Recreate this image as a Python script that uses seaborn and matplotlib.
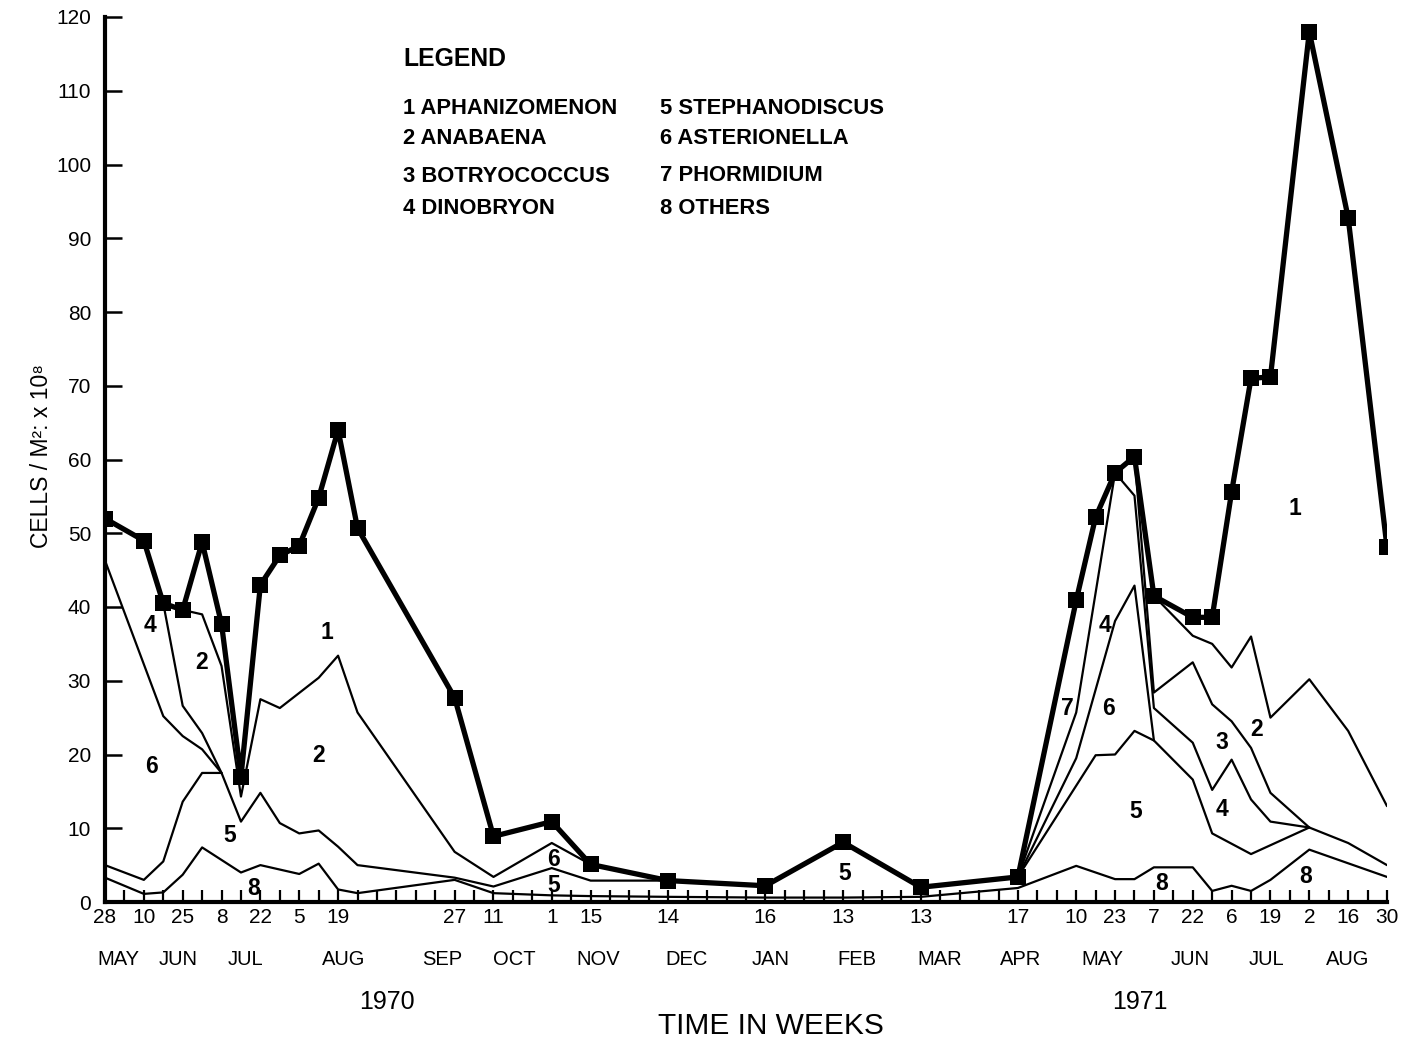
import matplotlib
matplotlib.use("Agg")
import matplotlib.pyplot as plt
import matplotlib.transforms as mtransforms
import seaborn as sns

# ---------------- data (x = week number on the drawn axis, 0 = 28 May 1970, 66 = 30 Aug 1971)
total_weeks = [0, 2, 3, 4, 5, 6, 7, 8, 9, 10, 11, 12, 13, 18, 20, 23, 25, 29, 34, 38, 42, 47,
               50, 51, 52, 53, 54, 56, 57, 58, 59, 60, 62, 64, 66]
total_cells = [52.0, 49.0, 40.5, 39.6, 48.8, 37.7, 17.0, 43.0, 47.0, 48.3, 54.8, 64.0, 50.7, 27.7,
               8.9, 10.9, 5.1, 2.9, 2.2, 8.1, 2.0, 3.4,
               40.9, 52.2, 58.2, 60.4, 41.5, 38.6, 38.6, 55.6, 71.0, 71.2, 118.0, 92.8, 48.1]

# cumulative boundary lines (top of each group)
others_weeks = [0, 2, 3, 4, 5, 7, 8, 10, 11, 12, 13, 18, 20, 23, 25, 29, 34, 38, 42, 47,
                50, 52, 53, 54, 56, 57, 58, 59, 60, 62, 66]
others_top = [3.3, 1.1, 1.3, 3.7, 7.4, 4.0, 5.0, 3.8, 5.2, 1.7, 1.2, 3.0, 1.2, 0.9, 0.8, 0.7, 0.6, 0.6, 0.7, 1.9,
              4.9, 3.1, 3.1, 4.7, 4.7, 1.5, 2.2, 1.5, 3.0, 7.1, 3.4]

steph_weeks = [0, 2, 3, 4, 5, 6, 7, 8, 9, 10, 11, 12, 13, 18, 20, 23, 25, 29, 34, 38, 42, 47,
               51, 52, 53, 54, 56, 57, 59, 62, 64, 66]
steph_top = [5.0, 3.0, 5.5, 13.6, 17.5, 17.5, 10.9, 14.8, 10.7, 9.3, 9.7, 7.5, 5.0, 3.3, 2.1, 4.6, 2.9, 2.9,
             2.2, 8.1, 2.0, 3.4, 19.9, 20.0, 23.2, 21.9, 16.6, 9.3, 6.5, 10.1, 8.0, 5.0]

aster_weeks_1970 = [0, 3, 4, 5, 6]
aster_top_1970 = [46.3, 25.2, 22.5, 20.7, 17.5]
aster_weeks_1971 = [47, 50, 52, 53, 54]
aster_top_1971 = [3.4, 19.5, 38.1, 42.9, 21.9]

dino_weeks_1970 = [3, 4, 5, 6]
dino_top_1970 = [40.5, 26.6, 22.9, 17.5]
dino_weeks_1971 = [47, 50, 52, 53, 54, 56, 57, 58, 59, 60, 62]
dino_top_1971 = [3.4, 25.7, 58.2, 55.1, 26.3, 21.6, 15.2, 19.3, 13.9, 10.9, 10.1]

botryo_weeks_1971 = [53, 54, 56, 57, 58, 59, 60, 62]
botryo_top_1971 = [60.4, 28.4, 32.5, 26.8, 24.5, 20.9, 14.8, 10.1]

anab_weeks_1970 = [4, 5, 6, 7, 8, 9, 11, 12, 13, 18, 20, 23, 25]
anab_top_1970 = [39.6, 39.0, 32.0, 14.3, 27.5, 26.3, 30.4, 33.4, 25.7, 6.8, 3.4, 8.0, 5.1]
anab_weeks_1971 = [54, 56, 57, 58, 59, 60, 62, 64, 66]
anab_top_1971 = [41.5, 36.1, 35.0, 31.8, 36.0, 25.0, 30.2, 23.2, 13.0]

# axis labels
day_ticks = [0, 2, 4, 6, 8, 10, 12, 18, 20, 23, 25, 29, 34, 38, 42, 47, 50, 52, 54, 56, 58, 60, 62, 64, 66]
day_labels = ["28", "10", "25", "8", "22", "5", "19", "27", "11", "1", "15", "14", "16", "13", "13",
              "17", "10", "23", "7", "22", "6", "19", "2", "16", "30"]
month_names = ["MAY", "JUN", "JUL", "AUG", "SEP", "OCT", "NOV", "DEC", "JAN", "FEB", "MAR", "APR",
               "MAY", "JUN", "JUL", "AUG"]
year_names = ["1970", "1971"]
region_labels = ["4", "2", "6", "5", "8", "1", "2", "6", "5", "5", "7", "4", "6", "5", "8", "3", "2", "4", "8", "1"]
legend_col1 = ["1 APHANIZOMENON", "2 ANABAENA", "3 BOTRYOCOCCUS", "4 DINOBRYON"]
legend_col2 = ["5 STEPHANODISCUS", "6 ASTERIONELLA", "7 PHORMIDIUM", "8 OTHERS"]

# ---------------- layout
month_pos = [0.67, 3.76, 7.21, 12.31, 17.35, 21.06, 25.39, 29.92, 34.29, 38.72, 42.95, 47.12,
             51.34, 55.87, 59.78, 63.95]
year_pos = [14.5, 53.3]
region_pos = [(2.32, 37.5), (4.98, 32.5), (2.40, 18.4), (6.44, 9.0), (7.64, 1.8), (11.42, 36.6),
              (10.98, 19.8), (23.1, 5.8), (23.1, 2.3), (38.1, 3.9), (49.52, 26.3), (51.49, 37.5),
              (51.66, 26.3), (53.04, 12.3), (54.41, 2.5), (57.5, 21.6), (59.3, 23.4), (57.5, 12.5),
              (61.79, 3.4), (61.28, 53.3)]

sns.set_style("ticks")
plt.rcParams['font.family'] = ['Liberation Sans', 'DejaVu Sans']
plt.rcParams['text.color'] = 'black'
plt.rcParams['axes.labelcolor'] = 'black'
plt.rcParams['xtick.color'] = 'black'
plt.rcParams['ytick.color'] = 'black'

W, H = 1407, 1041
fig = plt.figure(figsize=(W / 100, H / 100), dpi=100)
ax = fig.add_axes([105 / W, 1 - 902 / H, (1387 - 105) / W, (902 - 17) / H])

thin = dict(color='black', linewidth=1.6, estimator=None, sort=False, ax=ax, legend=False)
for xs, ys in [(others_weeks, others_top), (steph_weeks, steph_top),
               (aster_weeks_1970, aster_top_1970), (aster_weeks_1971, aster_top_1971),
               (dino_weeks_1970, dino_top_1970), (dino_weeks_1971, dino_top_1971),
               (botryo_weeks_1971, botryo_top_1971),
               (anab_weeks_1970, anab_top_1970), (anab_weeks_1971, anab_top_1971)]:
    sns.lineplot(x=xs, y=ys, **thin)

sns.lineplot(x=total_weeks, y=total_cells, color='black', linewidth=3.8, marker='s',
             markersize=11, markeredgewidth=0, estimator=None, sort=False, ax=ax, legend=False,
             zorder=5)

ax.set_xlim(0, 66)
ax.set_ylim(0, 120)
for s in ['top', 'right']:
    ax.spines[s].set_visible(False)
for s in ['left', 'bottom']:
    ax.spines[s].set_linewidth(3.0)
    ax.spines[s].set_color('black')

ax.set_xticks(day_ticks)
ax.set_xticklabels(day_labels)
ax.set_xticks(range(1, 66), minor=True)
ax.tick_params(axis='x', which='both', bottom=True, direction='in', length=9, width=1.6, pad=4.5,
               labelsize=15, colors='black')
ax.set_yticks(range(0, 121, 10))
ax.tick_params(axis='y', which='major', left=True, direction='in', length=12, width=1.8, pad=10,
               labelsize=15, colors='black')
ax.set_xlabel('')
ax.set_ylabel('')

trans = mtransforms.blended_transform_factory(ax.transData, ax.transAxes)
for name, xp in zip(month_names, month_pos):
    ax.text(xp, -0.0655, name, transform=trans, ha='center', va='center', fontsize=14.5)
for name, xp in zip(year_names, year_pos):
    ax.text(xp, -0.113, name, transform=trans, ha='center', va='center', fontsize=18)

for t, (xp, yp) in zip(region_labels, region_pos):
    ax.text(xp, yp, t, ha='center', va='center', fontsize=16.5, fontweight='bold', zorder=6)

fig.text(771 / W, 1 - 1026 / H, "TIME IN WEEKS", ha='center', va='center', fontsize=21.5)
fig.text(42 / W, 1 - 456 / H, "CELLS / M²: x 10⁸", rotation=90, ha='center', va='center',
         fontsize=16.5)

fig.text(403 / W, 1 - 59 / H, "LEGEND", ha='left', va='center', fontsize=17.8, fontweight='bold')
for t, yp in zip(legend_col1, [109, 139, 177, 209]):
    fig.text(403 / W, 1 - yp / H, t, ha='left', va='center', fontsize=15.8, fontweight='bold')
for t, yp in zip(legend_col2, [109, 139, 176, 209]):
    fig.text(660 / W, 1 - yp / H, t, ha='left', va='center', fontsize=15.8, fontweight='bold')

fig.savefig("out.png", dpi=100)
